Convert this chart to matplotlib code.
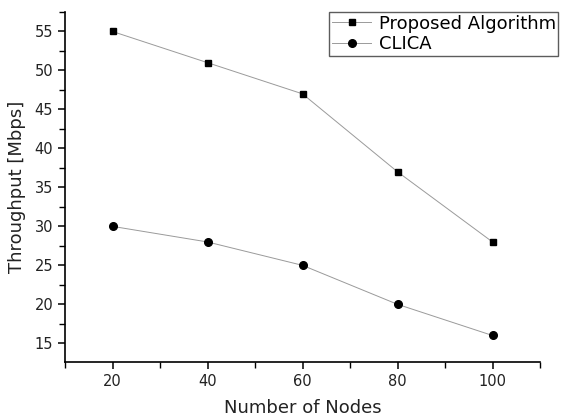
import matplotlib
matplotlib.use("Agg")
import matplotlib.pyplot as plt
from matplotlib.ticker import MultipleLocator

plt.rcParams['font.family'] = ['DejaVu Sans']

nodes = [20, 40, 60, 80, 100]
proposed = [55, 51, 47, 37, 28]
clica = [30, 28, 25, 20, 16]

fig = plt.figure(figsize=(5.63, 4.16), dpi=100)
ax = fig.add_axes([65 / 563, 54 / 416, 475 / 563, 350 / 416])

ax.plot(nodes, proposed, color='#9a9a9a', lw=0.7, marker='s', ms=4.8,
        mfc='black', mec='black', label='Proposed Algorithm')
ax.plot(nodes, clica, color='#9a9a9a', lw=0.7, marker='o', ms=5.5,
        mfc='black', mec='black', label='CLICA')

ax.set_xlim(10, 110)
ax.set_ylim(12.6, 57.5)
ax.xaxis.set_major_locator(MultipleLocator(20))
ax.xaxis.set_minor_locator(MultipleLocator(10))
ax.yaxis.set_major_locator(MultipleLocator(5))
ax.yaxis.set_minor_locator(MultipleLocator(2.5))

for s in ['top', 'right']:
    ax.spines[s].set_visible(False)
for s in ['left', 'bottom']:
    ax.spines[s].set_linewidth(1.2)

ax.tick_params(which='major', direction='out', length=5, width=1.1,
               labelsize=10.5, labelcolor='#222222')
ax.tick_params(which='minor', direction='out', length=4, width=1.0)

ax.set_xlabel('Number of Nodes', fontsize=13, labelpad=7, color='#222222')
ax.set_ylabel('Throughput [Mbps]', fontsize=13, labelpad=6, color='#222222')

leg = ax.legend(loc='upper left', bbox_to_anchor=(329 / 563, 1 - 12 / 416),
                bbox_transform=fig.transFigure, fontsize=13, frameon=True,
                fancybox=False, borderpad=0.15, labelspacing=0.15,
                handlelength=2.2, handletextpad=0.4, borderaxespad=0)
leg.get_frame().set_edgecolor('#333333')
leg.get_frame().set_linewidth(1.0)

fig.savefig('out.png', dpi=100)
